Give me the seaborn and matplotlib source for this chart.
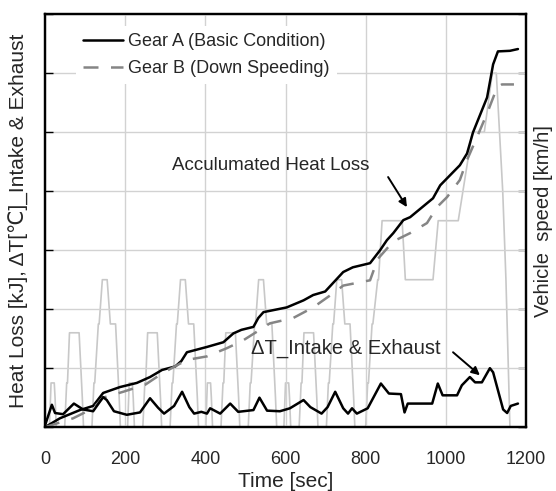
import numpy as np
import pandas as pd
import matplotlib
matplotlib.use("Agg")
import matplotlib.pyplot as plt
import seaborn as sns

# ---- data ----
# accumulated heat loss, Gear A (basic condition)
time_a = [0, 37, 87, 120, 145, 187, 229, 262, 292, 325, 340, 354, 404, 445, 470, 490,
          520, 532, 545, 603, 645, 669, 699, 729, 744, 768, 811, 836, 853, 869, 894,
          911, 968, 986, 1035, 1053, 1068, 1103, 1118, 1130, 1160, 1180]
heat_a = [0.0, 1.5, 2.9, 3.6, 5.8, 6.8, 7.5, 8.5, 9.7, 10.3, 11.2, 12.7, 13.6, 14.4, 15.9, 16.5,
          17.0, 18.5, 19.5, 20.3, 21.5, 22.4, 23.0, 25.2, 26.3, 27.1, 27.8, 30.0, 31.7, 32.9, 35.1,
          35.6, 38.8, 41.0, 44.4, 46.4, 50.0, 55.9, 61.5, 63.7, 63.8, 64.1]

# accumulated heat loss, Gear B (down speeding)
time_b = [0, 37, 70, 120, 145, 195, 250, 294, 354, 404, 454, 494, 529, 561, 619, 669,
          719, 744, 811, 830, 869, 911, 953, 978, 1003, 1035, 1053, 1078, 1103, 1128, 1140, 1170]
heat_b = [0.0, 0.8, 1.5, 3.2, 5.0, 6.0, 7.2, 9.2, 11.4, 12.0, 13.4, 14.7, 16.2, 17.6, 18.5, 20.3,
          22.7, 24.0, 24.9, 28.5, 31.5, 32.9, 34.6, 37.3, 39.0, 41.9, 45.3, 49.2, 53.2, 57.6, 58.1, 58.1]

# delta T intake & exhaust (Gear A)
time_dt = [0, 17, 25, 45, 72, 95, 120, 145, 154, 172, 204, 237, 262, 282, 297, 322, 342, 360,
           372, 390, 404, 412, 437, 462, 482, 520, 535, 554, 586, 611, 645, 662, 690, 705, 724,
           744, 756, 766, 778, 805, 838, 858, 888, 897, 905, 966, 980, 992, 1028, 1040, 1060,
           1073, 1090, 1110, 1118, 1143, 1153, 1162, 1180]
delta_t = [0.3, 3.8, 2.4, 2.2, 4.0, 3.0, 2.7, 5.1, 4.6, 2.7, 2.1, 2.5, 4.9, 3.3, 2.3, 3.6, 6.0, 3.4,
           2.3, 2.6, 2.3, 3.2, 2.3, 4.0, 2.6, 2.9, 5.0, 2.8, 2.7, 3.2, 4.6, 3.4, 2.3, 3.4, 6.0,
           3.2, 2.3, 3.2, 2.3, 3.2, 7.4, 5.7, 5.6, 2.5, 4.0, 4.0, 7.4, 5.4, 5.4, 7.1, 8.5,
           7.6, 7.6, 10.0, 9.3, 3.0, 2.4, 3.6, 4.0]

# vehicle speed (NEDC driving cycle)
time_v = [0, 11, 15, 23, 25, 28, 49, 54, 56, 61, 85, 93, 96, 117, 122, 124, 133, 135, 143,
          155, 163, 176, 185, 188,
          206, 210, 218, 220, 223, 244, 249, 251, 256, 280, 288, 291, 312, 317, 319, 328,
          330, 338, 350, 358, 371, 380, 383,
          401, 405, 413, 415, 418, 439, 444, 446, 451, 475, 483, 486, 507, 512, 514, 523,
          525, 533, 545, 553, 566, 575, 578,
          596, 600, 608, 610, 613, 634, 639, 641, 646, 670, 678, 681, 702, 707, 709, 718,
          720, 728, 740, 748, 761, 770, 773,
          800, 805, 807, 816, 818, 830, 832, 841, 891, 899, 968, 981, 1031, 1066, 1096,
          1116, 1126, 1142, 1150, 1160, 1180]
speed = [0, 0, 15, 15, 10, 0, 0, 15, 15, 32, 32, 10, 0, 0, 15, 15, 35, 35, 50,
         50, 35, 35, 10, 0,
         0, 15, 15, 10, 0, 0, 15, 15, 32, 32, 10, 0, 0, 15, 15, 35,
         35, 50, 50, 35, 35, 10, 0,
         0, 15, 15, 10, 0, 0, 15, 15, 32, 32, 10, 0, 0, 15, 15, 35,
         35, 50, 50, 35, 35, 10, 0,
         0, 15, 15, 10, 0, 0, 15, 15, 32, 32, 10, 0, 0, 15, 15, 35,
         35, 50, 50, 35, 35, 10, 0,
         0, 15, 15, 35, 35, 50, 50, 70, 70, 50, 50, 70, 70, 100, 100,
         120, 120, 80, 50, 0, 0]

x_ticks = [0, 200, 400, 600, 800, 1000, 1200]

sns.set_style("white")
plt.rcParams["font.family"] = ["Liberation Sans", "DejaVu Sans"]

fig = plt.figure(figsize=(5.56, 4.91), dpi=100)
ax = fig.add_axes([0.081, 0.130, 0.865, 0.841])
ax2 = ax.twinx()

# speed trace in the background (right axis)
df_v = pd.DataFrame({"t": time_v, "v": speed})
sns.lineplot(data=df_v, x="t", y="v", ax=ax2, color="#c8c8c8", lw=1.2,
             estimator=None, sort=False)
ax2.set_ylim(0, 140)
ax2.set_yticks(np.arange(0, 141, 20))
ax2.set_yticklabels([])
ax2.tick_params(axis="y", direction="in", length=6, width=1, color="black")
ax2.set_ylabel("Vehicle  speed [km/h]", fontsize=14.5, labelpad=2)
ax2.set_xlabel("")

# heat loss curves on top
ax.set_zorder(ax2.get_zorder() + 1)
ax.patch.set_visible(False)

df_a = pd.DataFrame({"t": time_a, "q": heat_a})
df_b = pd.DataFrame({"t": time_b, "q": heat_b})
df_dt = pd.DataFrame({"t": time_dt, "d": delta_t})
sns.lineplot(data=df_a, x="t", y="q", ax=ax, color="black", lw=1.8,
             estimator=None, label="Gear A (Basic Condition)")
sns.lineplot(data=df_b, x="t", y="q", ax=ax, color="#858585", lw=1.8,
             estimator=None, label="Gear B (Down Speeding)")
ax.lines[-1].set_dashes([6, 5])
sns.lineplot(data=df_dt, x="t", y="d", ax=ax, color="black", lw=1.8,
             estimator=None, legend=False)

ax.set_xlim(0, 1200)
ax.set_ylim(0, 70)
ax.set_xticks(x_ticks)
ax.set_xticklabels([str(t) for t in x_ticks], fontsize=13)
ax.set_yticks(np.arange(0, 71, 10))
ax.set_yticklabels([])
ax.tick_params(axis="x", length=0, pad=17)
ax.tick_params(axis="y", direction="in", length=6, width=1, color="black")
ax.set_axisbelow(True)
ax.grid(True, color="#d2d2d2", lw=1)
ax.set_xlabel("Time [sec]", fontsize=15, labelpad=3)
ax.set_ylabel("Heat Loss [kJ], ΔT[℃]_Intake & Exhaust", fontsize=15, labelpad=8)

for a in (ax, ax2):
    for s in a.spines.values():
        s.set_color("black")
        s.set_linewidth(1.6)

leg = ax.legend(loc="upper left", bbox_to_anchor=(0.053, 0.985), fontsize=13,
                frameon=True, fancybox=False, framealpha=1, facecolor="white",
                edgecolor="none", handlelength=2.2, handletextpad=0.3,
                labelspacing=0.55, borderaxespad=0.3)
leg.get_frame().set_linewidth(0)
leg.legend_handles[1].set_dashes([6, 5])

# annotations: label text and a separate arrow, as in the reference
ax.text(564, 44.4, "Acculumated Heat Loss", fontsize=13.5, ha="center", va="center")
ax.annotate("", xy=(903, 37.3), xytext=(856, 42.4),
            arrowprops=dict(arrowstyle="-|>", color="black", lw=1.4,
                            shrinkA=0, shrinkB=0, mutation_scale=12))
ax.text(751, 13.4, "ΔT_Intake & Exhaust", fontsize=14.5, ha="center", va="center")
ax.annotate("", xy=(1085, 8.8), xytext=(1018, 12.7),
            arrowprops=dict(arrowstyle="-|>", color="black", lw=1.4,
                            shrinkA=0, shrinkB=0, mutation_scale=12))

fig.savefig("out.png", dpi=100)
